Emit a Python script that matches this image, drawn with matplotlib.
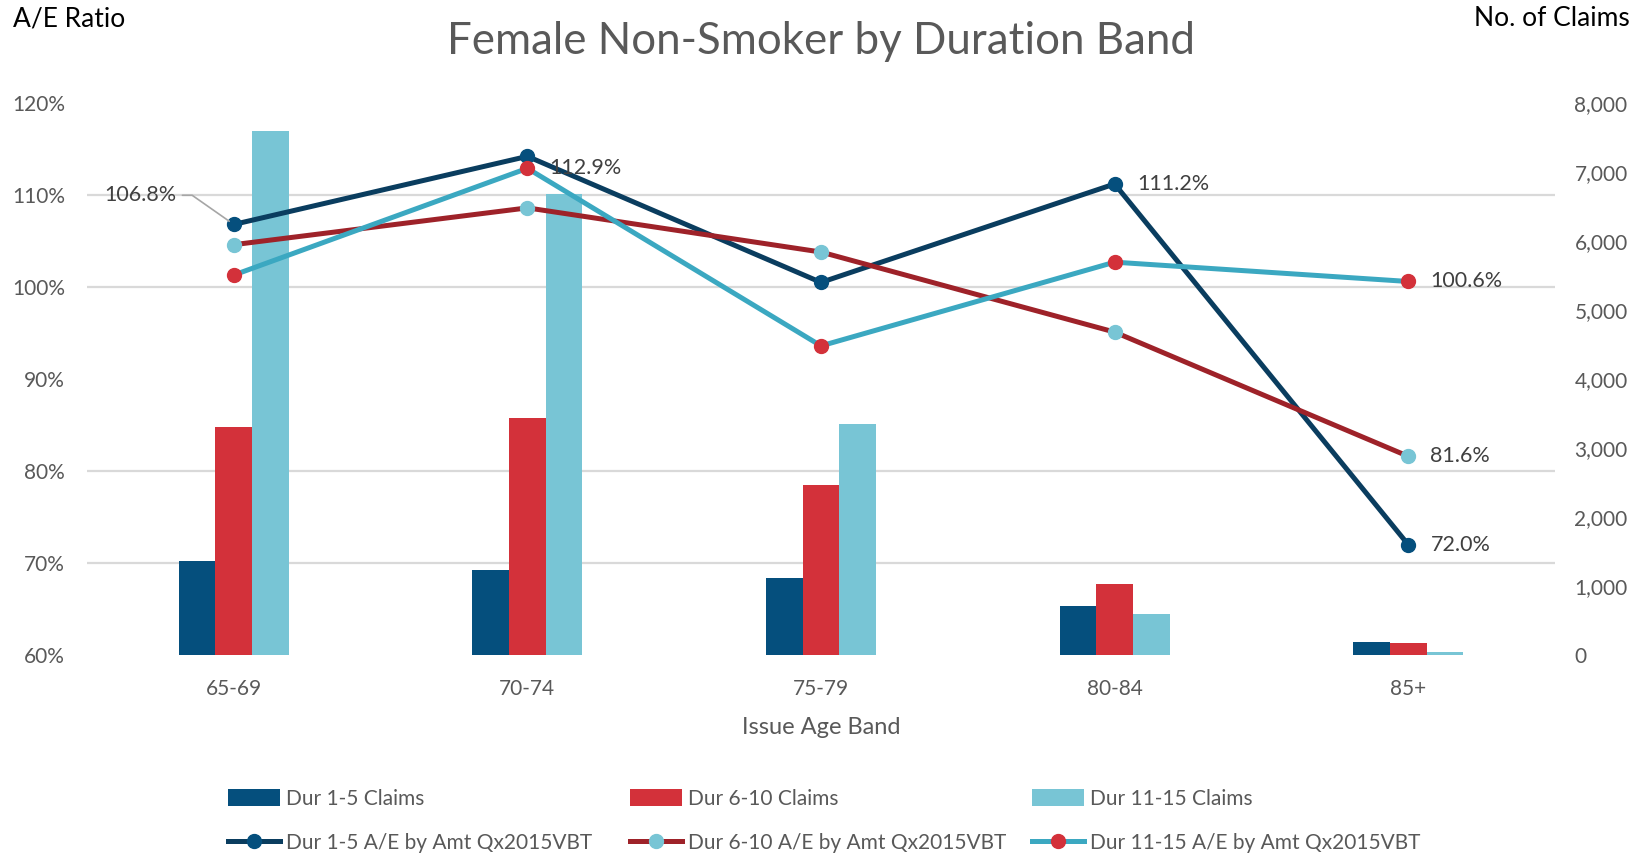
import numpy as np
import matplotlib
matplotlib.use('Agg')
import matplotlib.pyplot as plt
from matplotlib.ticker import FuncFormatter, FixedLocator

plt.rcParams['font.family'] = ['Lato', 'DejaVu Sans']

# data
age_bands = ['65-69', '70-74', '75-79', '80-84', '85+']
claims_dur1_5 = [1360, 1230, 1110, 715, 185]
claims_dur6_10 = [3300, 3440, 2460, 1035, 170]
claims_dur11_15 = [7590, 6680, 3350, 595, 40]
ae_dur1_5 = [106.8, 114.2, 100.5, 111.2, 72.0]
ae_dur6_10 = [104.6, 108.6, 103.8, 95.1, 81.6]
ae_dur11_15 = [101.3, 112.9, 93.6, 102.7, 100.6]

ae_ticks = [60, 70, 80, 90, 100, 110, 120]
claims_ticks = [0, 1000, 2000, 3000, 4000, 5000, 6000, 7000, 8000]

# (series, index) pairs that carry a data label
labelled = [('d1', 4), ('d1', 3), ('d3', 1), ('d3', 4), ('d2', 4)]

# colours
c_bar1, c_bar2, c_bar3 = '#054F7D', '#D3313A', '#78C5D5'
c_line1, c_line2, c_line3 = '#0A3D5F', '#9E2229', '#3BA8C1'
grey = '#595959'

fig = plt.figure(figsize=(16.47, 8.55), dpi=100)
ax_bar = fig.add_axes([87/1647, 1-655/855, (1555-87)/1647, (655-103)/855])
ax_line = ax_bar.twinx()

x = np.arange(len(age_bands))
w = 0.125

b1 = ax_bar.bar(x - w, claims_dur1_5, w, color=c_bar1, zorder=2,
                label='Dur 1-5 Claims')
b2 = ax_bar.bar(x, claims_dur6_10, w, color=c_bar2, zorder=2,
                label='Dur 6-10 Claims')
b3 = ax_bar.bar(x + w, claims_dur11_15, w, color=c_bar3, zorder=2,
                label='Dur 11-15 Claims')

ax_bar.set_ylim(claims_ticks[0], claims_ticks[-1])
ax_line.set_ylim(ae_ticks[0], ae_ticks[-1])
ax_bar.set_xlim(-0.5, len(age_bands) - 0.5)

# gridlines follow the left (A/E) axis but sit behind the bars
grid_pos = np.interp(ae_ticks, [ae_ticks[0], ae_ticks[-1]],
                     [claims_ticks[0], claims_ticks[-1]])
ax_bar.yaxis.set_minor_locator(FixedLocator(grid_pos))
ax_bar.grid(which='minor', axis='y', color='#D9D9D9', linewidth=1.6, zorder=0)
ax_bar.grid(which='major', visible=False)
ax_bar.set_axisbelow(True)

lw = 3.6
ms = 10
l1, = ax_line.plot(x, ae_dur1_5, color=c_line1, lw=lw, marker='o', ms=ms,
                   mfc=c_bar1, mec=c_bar1, label='Dur 1-5 A/E by Amt Qx2015VBT')
l2, = ax_line.plot(x, ae_dur6_10, color=c_line2, lw=lw, marker='o', ms=ms,
                   mfc=c_bar3, mec=c_bar3, label='Dur 6-10 A/E by Amt Qx2015VBT')
l3, = ax_line.plot(x, ae_dur11_15, color=c_line3, lw=lw, marker='o', ms=ms,
                   mfc=c_bar2, mec=c_bar2, label='Dur 11-15 A/E by Amt Qx2015VBT')

series = {'d1': ae_dur1_5, 'd2': ae_dur6_10, 'd3': ae_dur11_15}
for key, i in labelled:
    v = series[key][i]
    ax_line.annotate('%.1f%%' % v, (x[i], v), xytext=(16, 0),
                     textcoords='offset points', ha='left', va='center',
                     fontsize=15.5, color='#404040')

# leader-line label for the first point
v0 = ae_dur1_5[0]
ax_line.annotate('%.1f%%' % v0, (x[0], v0), xytext=(-41, 21),
                 textcoords='offset points', ha='right', va='center',
                 fontsize=15.5, color='#404040',
                 arrowprops=dict(arrowstyle='-', color='#A6A6A6', lw=1.2,
                                 shrinkA=2, shrinkB=4,
                                 connectionstyle='angle,angleA=0,angleB=145,rad=0'))

# axes dressing
ax_line.yaxis.tick_left()
ax_bar.yaxis.tick_right()
ax_line.set_yticks(ae_ticks)
ax_line.yaxis.set_major_formatter(FuncFormatter(lambda v, p: '%d%%' % v))
ax_bar.set_yticks(claims_ticks)
ax_bar.yaxis.set_major_formatter(FuncFormatter(lambda v, p: '{:,.0f}'.format(v)))
ax_bar.set_xticks(x)
ax_bar.set_xticklabels(age_bands)

for a in (ax_bar, ax_line):
    for s in a.spines.values():
        s.set_visible(False)
    a.tick_params(length=0, labelsize=15, labelcolor=grey)
    a.tick_params(which='minor', length=0)
ax_line.tick_params(axis='y', pad=16)
ax_bar.tick_params(axis='y', pad=14)
ax_bar.tick_params(axis='x', pad=17)

ax_bar.set_xlabel('Issue Age Band', fontsize=17, color=grey, labelpad=13)

fig.text(821/1647, 1-41/855, 'Female Non-Smoker by Duration Band',
         ha='center', va='center', fontsize=31.6, color=grey)
fig.text(13/1647, 1-19/855, 'A/E Ratio', ha='left', va='center',
         fontsize=19, color='black')
fig.text(1630/1647, 1-19/855, 'No. of Claims', ha='right', va='center',
         fontsize=19, color='black')

# one legend per column, like the fixed-width columns of the original
legend_cols = [(b1, l1), (b2, l2), (b3, l3)]
legend_x = [228, 630, 1032]
for (hb, hl), lx in zip(legend_cols, legend_x):
    leg = fig.legend([hb, hl], [hb.get_label(), hl.get_label()],
                     loc='upper left', bbox_to_anchor=(lx/1647, 1-789/855),
                     frameon=False, fontsize=15, labelcolor=grey,
                     handlelength=2.5, handleheight=0.85, handletextpad=0.3,
                     labelspacing=1.15, borderpad=0, borderaxespad=0)

fig.savefig('out.png', dpi=100)
